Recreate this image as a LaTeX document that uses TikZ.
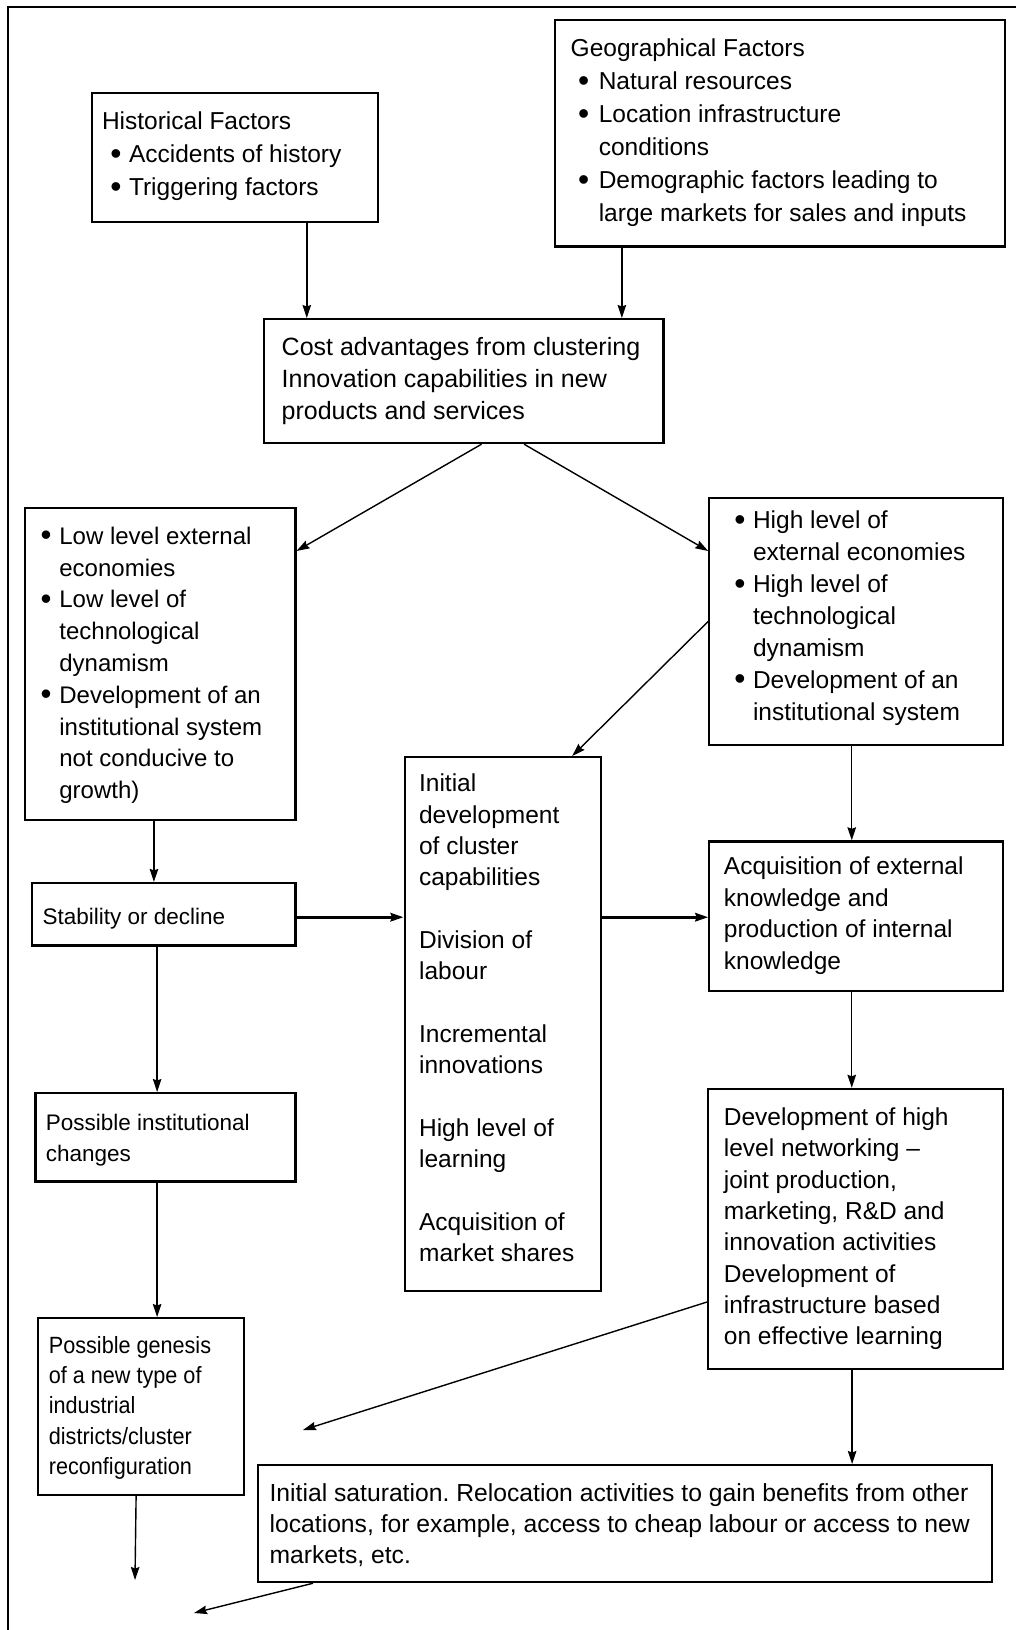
\documentclass[tikz,border=0pt]{standalone}
\usepackage{fontspec}
\setmainfont{Liberation Sans}
\usetikzlibrary{arrows.meta}
\setlength\parindent{0pt}
\frenchspacing

% font size / line spacing in bp
\newcommand\fsz[2]{\fontsize{#1bp}{#2bp}\selectfont}
% a slightly larger bullet dot
\newcommand\dotmark{\raisebox{-0.06em}{\scalebox{1.3}{\textbullet}}}
% bullet item with hanging indent: indent, bullet box width, text (\newline breaks)
\newcommand\bitem[3]{\par\noindent\hangindent=\dimexpr#1+#2\relax\hangafter=1
  \hspace*{#1}\makebox[#2][l]{\dotmark}#3\par}
\newcommand\blank{\par\mbox{}\par}
% box body: height, width, space above first line, text
\newcommand\inbox[4]{\parbox[c][#1][t]{#2}{\vspace*{#3}#4}}

\tikzset{
  box/.style={draw, line width=2.2bp, rectangle, anchor=north west,
    inner ysep=0pt},
  arr/.style={-{Stealth[length=13bp,width=8.5bp,inset=1.5bp]}, line width=1.4bp},
  heavyarr/.style={arr, line width=2.6bp},
}

\begin{document}
\begin{tikzpicture}[x=1bp, y=-1bp]
\useasboundingbox (0,0) rectangle (1016,1630);

% page frame (top and left rules)
\draw[line width=2.5bp] (1016,7) -- (8,7) -- (8,1630);

% ---- boxes ----
\node[box, font=\fsz{24.5}{33.3}, inner xsep=10.4bp,
  minimum width=286bp, minimum height=129bp] (hist) at (90.5,91.5)
  {\inbox{129bp}{265.2bp}{19bp}{Historical Factors\par
   \bitem{8.3bp}{18.7bp}{Accidents of history}
   \bitem{8.3bp}{18.7bp}{Triggering factors}}};

\node[box, font=\fsz{24.5}{33}, inner xsep=15.6bp,
  minimum width=449.5bp, minimum height=226.7bp] (geo) at (554,18.7)
  {\inbox{226.7bp}{418.3bp}{19bp}{Geographical Factors\par
   \bitem{7.3bp}{20.8bp}{Natural resources}
   \bitem{7.3bp}{20.8bp}{Location infrastructure\newline conditions}
   \bitem{7.3bp}{20.8bp}{Demographic factors leading to\newline large markets for sales and inputs}}};

\node[box, font=\fsz{25}{32.2}, inner xsep=17.6bp,
  minimum width=399.4bp, minimum height=124bp] (cost) at (263,318)
  {\inbox{124bp}{364.2bp}{17.8bp}{Cost advantages from clustering\par
   Innovation capabilities in new\par
   products and services}};

\node[box, font=\fsz{24}{31.8}, inner xsep=15.6bp,
  minimum width=270.3bp, minimum height=312bp] (low) at (24,506.5)
  {\inbox{312bp}{239.1bp}{19.2bp}{%
   \bitem{0bp}{18.7bp}{Low level external\newline economies}
   \bitem{0bp}{18.7bp}{Low level of\newline technological\newline dynamism}
   \bitem{0bp}{18.7bp}{Development of an\newline institutional system\newline not conducive to\newline growth)}}};

\node[box, font=\fsz{24.5}{31.9}, inner xsep=25bp,
  minimum width=293.3bp, minimum height=246.6bp] (high) at (708.2,497)
  {\inbox{246.6bp}{243.3bp}{12.9bp}{%
   \bitem{0bp}{18.7bp}{High level of\newline external economies}
   \bitem{0bp}{18.7bp}{High level of\newline technological\newline dynamism}
   \bitem{0bp}{18.7bp}{Development of an\newline institutional system}}};

\node[box, font=\fsz{24.5}{31.3}, inner xsep=14.5bp,
  minimum width=196.5bp, minimum height=533.5bp] (mid) at (403.5,756)
  {\inbox{533.5bp}{167.5bp}{17bp}{%
   Initial\par development\par of cluster\par capabilities\blank
   Division of\par labour\blank
   Incremental\par innovations\blank
   High level of\par learning\blank
   Acquisition of\par market shares}};

\node[box, font=\fsz{22.5}{31}, inner xsep=10.4bp,
  minimum width=263.1bp, minimum height=62.4bp] (stab) at (31.2,881.9)
  {\inbox{62.4bp}{242.3bp}{25.5bp}{Stability or decline}};

\node[box, font=\fsz{24.5}{31.5}, inner xsep=14.6bp,
  minimum width=293.3bp, minimum height=149.7bp] (acq) at (708.2,840.3)
  {\inbox{149.7bp}{264.1bp}{15.4bp}{Acquisition of external\par
   knowledge and\par
   production of internal\par
   knowledge}};

\node[box, font=\fsz{22.5}{31.3}, inner xsep=10.4bp,
  minimum width=260bp, minimum height=88.4bp] (inst) at (34.3,1092)
  {\inbox{88.4bp}{239.2bp}{20.6bp}{Possible institutional\par changes}};

\node[box, font=\fsz{24.5}{31.3}, inner xsep=15.8bp,
  minimum width=294.5bp, minimum height=279.7bp] (dev) at (707,1087.8)
  {\inbox{279.7bp}{262.9bp}{19bp}{Development of high\par
   level networking --\par
   joint production,\par
   marketing, R\&D and\par
   innovation activities\par
   Development of\par
   infrastructure based\par
   on effective learning}};

\node[box, font={\fsz{23.5}{30.4}\addfontfeatures{FakeStretch=0.92}}, inner xsep=11.3bp,
  minimum width=206.2bp, minimum height=177bp] (gen) at (36.5,1317)
  {\inbox{177bp}{183.6bp}{18bp}{Possible genesis\par
   of a new type of\par
   industrial\par
   districts/cluster\par
   reconfiguration}};

\node[box, font=\fsz{24.7}{31.2}, inner xsep=12bp,
  minimum width=734.5bp, minimum height=117bp] (sat) at (256.5,1464)
  {\inbox{117bp}{710.5bp}{18.3bp}{%
   \mbox{Initial saturation. Relocation activities to gain benefits from other}\par
   \mbox{locations, for example, access to cheap labour or access to new}\par
   markets, etc.}};

% ---- connector anchors ----
\coordinate (h1) at ([xshift=72.2bp]hist.south);
\coordinate (g1) at ([xshift=-158bp]geo.south);
\coordinate (l1) at ([xshift=-6.3bp]low.south);
\coordinate (s1) at ([xshift=-6.75bp]stab.south);
\coordinate (i1) at ([xshift=-8.3bp]inst.south);
\coordinate (n1) at ([xshift=-4.6bp]gen.south);
\coordinate (hh) at ([xshift=-4.2bp]high.south);
\coordinate (a1) at ([xshift=-4.2bp]acq.south);
\coordinate (d1) at ([xshift=-3.25bp]dev.south);
\coordinate (genout) at (135,1580);
\coordinate (devout) at (303,1430);
\coordinate (satout) at (194,1613);

% ---- connectors ----
\draw[arr] (h1) -- (h1 |- cost.north);
\draw[arr] (g1) -- (g1 |- cost.north);
\draw[arr] ([xshift=17.7bp]cost.south) -- ([yshift=-44.5bp]low.north east);
\draw[arr] ([xshift=60.3bp]cost.south) -- ([yshift=-54bp]high.north west);
\draw[arr] (high.west) -- ([xshift=-30bp]mid.north east);
\draw[arr] (l1) -- (l1 |- stab.north);
\draw[heavyarr] ([yshift=-3bp]stab.east) -- ([yshift=-3bp]stab.east -| mid.west);
\draw[heavyarr] ([yshift=-3bp]stab.east -| mid.east) -- ([yshift=-3bp]stab.east -| acq.west);
\draw[arr] (hh) -- (hh |- acq.north);
\draw[arr] (a1) -- (a1 |- dev.north);
\draw[arr] (s1) -- (s1 |- inst.north);
\draw[arr] (i1) -- (i1 |- gen.north);
\draw[arr] (n1) -- (genout);
\draw[arr] (d1) -- (d1 |- sat.north);
\draw[arr] ([yshift=-214.2bp]dev.north west) -- (devout);
\draw[arr] ([xshift=56.5bp]sat.south west) -- (satout);
\end{tikzpicture}
\end{document}
